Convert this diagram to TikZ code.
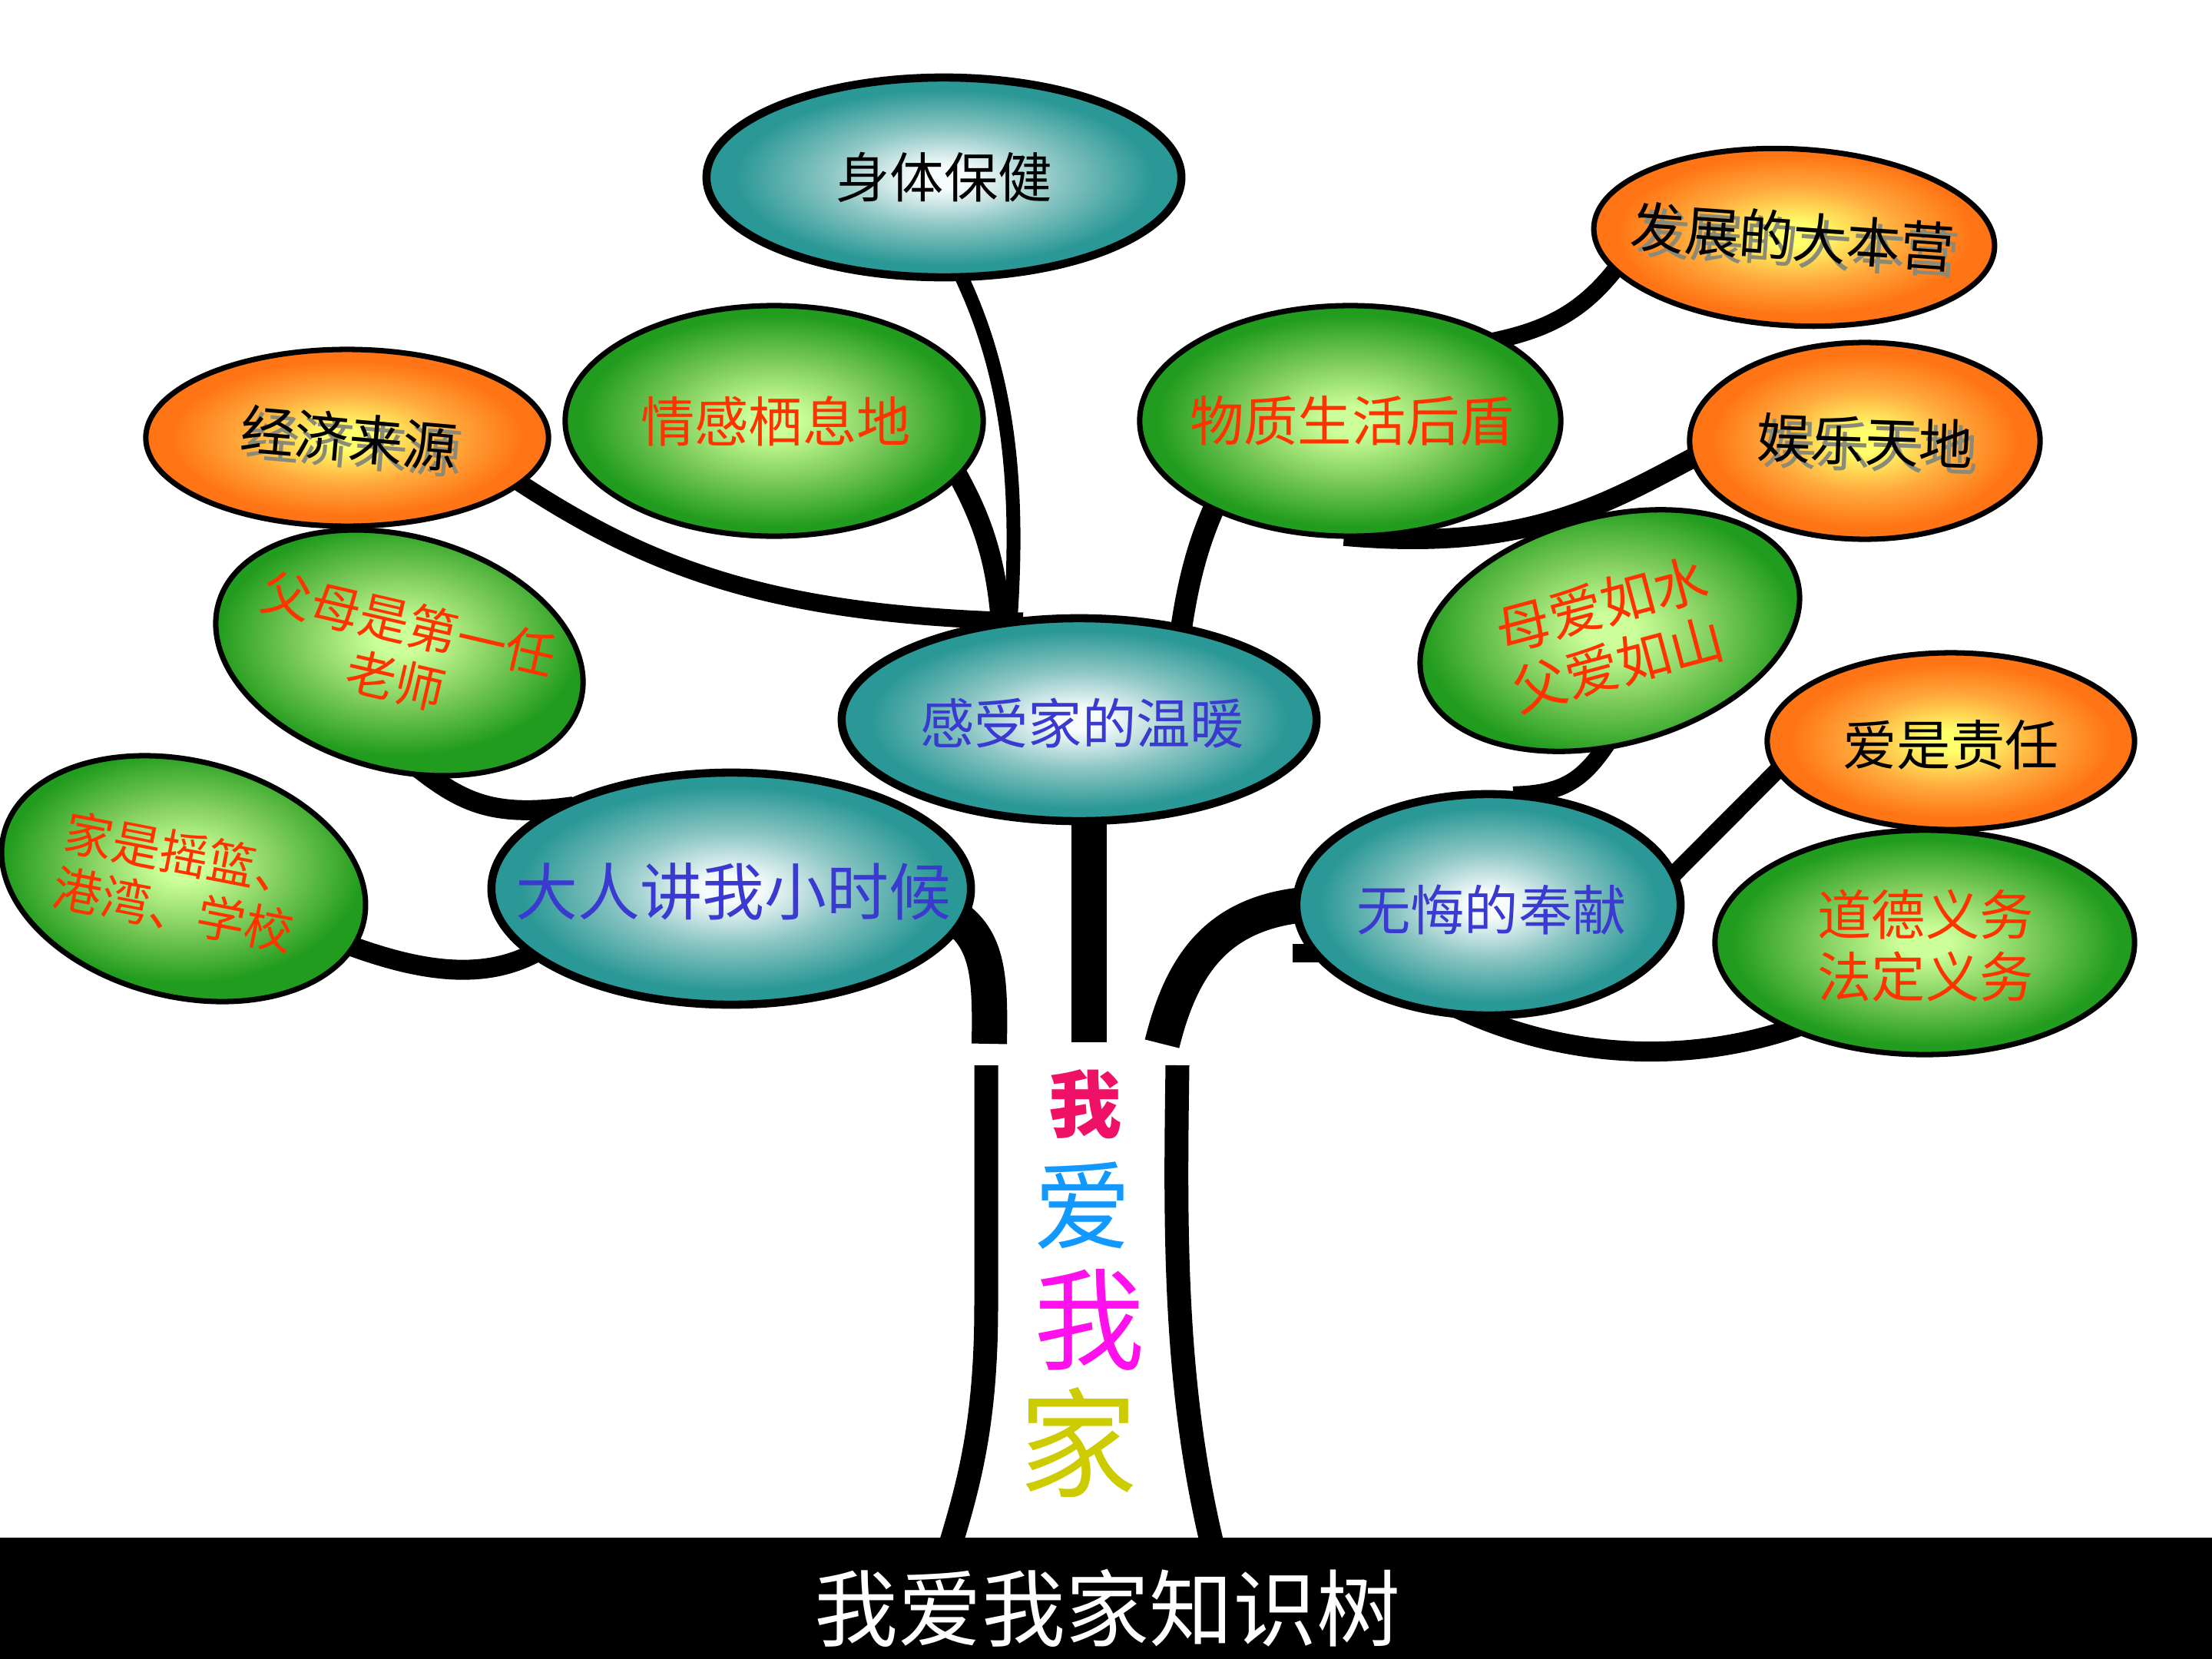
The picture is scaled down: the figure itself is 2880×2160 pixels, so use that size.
\documentclass[tikz,border=0pt]{standalone}
\usepackage{fontspec}
\setmainfont{Noto Sans CJK SC}
\usetikzlibrary{shapes.geometric,backgrounds}
\definecolor{tealout}{HTML}{2A9896}
\definecolor{tealmid}{HTML}{8CC6C4}
\definecolor{tealin}{HTML}{F6FBFB}
\definecolor{greenout}{HTML}{229C1E}
\definecolor{greenmid}{HTML}{7CCB5A}
\definecolor{greenin}{HTML}{CCFF99}
\definecolor{orangeout}{HTML}{FF7414}
\definecolor{orangemid}{HTML}{FFAA3C}
\definecolor{orangein}{HTML}{FFFF6A}
\definecolor{redtxt}{HTML}{FF3300}
\definecolor{bluetxt}{HTML}{3A3AD0}
\definecolor{shadowc}{HTML}{8A8A78}
\definecolor{wocolA}{HTML}{EE1166}
\definecolor{aicol}{HTML}{1199FF}
\definecolor{wocolB}{HTML}{FF11EE}
\definecolor{jiacol}{HTML}{CCCC00}
\pgfdeclareradialshading{tealball}{\pgfpoint{0bp}{0bp}}{color(0bp)=(tealin); color(3bp)=(tealin); color(12bp)=(tealmid); color(22bp)=(tealout); color(25bp)=(tealout); color(50bp)=(tealout)}
\pgfdeclareradialshading{greenball}{\pgfpoint{0bp}{0bp}}{color(0bp)=(greenin); color(3bp)=(greenin); color(13bp)=(greenmid); color(23bp)=(greenout); color(25bp)=(greenout); color(50bp)=(greenout)}
\pgfdeclareradialshading{orangeball}{\pgfpoint{0bp}{0bp}}{color(0bp)=(orangein); color(3bp)=(orangein); color(13bp)=(orangemid); color(22bp)=(orangeout); color(25bp)=(orangeout); color(50bp)=(orangeout)}
\newcommand\shtxt[1]{\makebox[0pt][l]{\hspace{2.2pt}\raisebox{-2.2pt}{\textcolor{shadowc}{#1}}}#1}
\tikzset{
  ball/.style={ellipse, draw=black, inner sep=0pt},
  tealb/.style={ball, shading=tealball, line width=3pt},
  greenb/.style={ball, shading=greenball, line width=2pt},
  orangeb/.style={ball, shading=orangeball, line width=2pt},
  txt/.style={inner sep=0pt, align=center, font=\fontsize{20pt}{23pt}\selectfont},
  redt/.style={txt, text=redtxt},
  bluet/.style={txt, text=bluetxt},
  blackt/.style={txt, text=black},
  branch/.style={line width=0.24cm, shorten <=-10pt, shorten >=-10pt},
  trunkup/.style={line width=0.46cm},
  trunklow/.style={line width=0.31cm},
  titletxt/.style={text=white, inner sep=0pt, font=\fontsize{31pt}{31pt}\selectfont},
}
\begin{document}
\begin{tikzpicture}[x=0.01cm,y=-0.01cm]
\useasboundingbox (0,0) rectangle (2880,2160);

% ellipses
\node[tealb, minimum width=6.18cm, minimum height=2.60cm] (ssbj) at (1229,231) {};
\node[blackt] (ssbj-t) at (ssbj) {身体保健};

\node[orangeb, minimum width=5.22cm, minimum height=2.30cm, rotate=-3] (fzdb) at (2336,309) {};
\node[blackt, rotate=-4] (fzdb-t) at (2334,312) {\shtxt{发展的大本营}};

\node[orangeb, minimum width=5.24cm, minimum height=2.30cm] (jjly) at (452,570) {};
\node[blackt, rotate=-5] (jjly-t) at (454,574) {\shtxt{经济来源}};

\node[greenb, minimum width=5.44cm, minimum height=3.00cm] (qgqx) at (1008,548) {};
\node[redt] (qgqx-t) at (1010,548) {情感栖息地};

\node[greenb, minimum width=5.48cm, minimum height=3.00cm] (wzsh) at (1758,548) {};
\node[redt] (wzsh-t) at (1760,548) {物质生活后盾};

\node[orangeb, minimum width=4.56cm, minimum height=2.56cm] (yltd) at (2428,574) {};
\node[blackt, rotate=-2] (yltd-t) at (2428,578) {\shtxt{娱乐天地}};

\node[greenb, minimum width=4.88cm, minimum height=3.04cm, rotate=-15] (fmds) at (520,850) {};
\node[redt, rotate=-13, font=\fontsize{18.5pt}{21.5pt}\selectfont] (fmds-t) at (524,849) {父母是第一任\\老师};

\node[greenb, minimum width=5.05cm, minimum height=2.96cm, rotate=15] (maru) at (2096,821) {};
\node[redt, rotate=15] (maru-t) at (2096,826) {母爱如水\\父爱如山};

\node[tealb, minimum width=6.18cm, minimum height=2.64cm] (gsjw) at (1405,937) {};
\node[bluet] (gsjw-t) at (1409,942) {感受家的温暖};

\node[orangeb, minimum width=4.78cm, minimum height=2.30cm] (aszr) at (2540,965) {};
\node[blackt] (aszr-t) at (2540,970) {爱是责任};

\node[greenb, minimum width=4.82cm, minimum height=3.07cm, rotate=-14] (jsyl) at (239,1144) {};
\node[redt, rotate=-11, font=\fontsize{18pt}{21pt}\selectfont] (jsyl-t) at (233,1148) {家是摇篮、\\港湾、学校};

\node[tealb, minimum width=6.24cm, minimum height=3.02cm] (drjw) at (952,1157) {};
\node[bluet, font=\fontsize{23pt}{26pt}\selectfont] (drjw-t) at (955,1161) {大人讲我小时候};

\node[tealb, minimum width=5.00cm, minimum height=2.88cm] (whfx) at (1938,1178) {};
\node[bluet] (whfx-t) at (1942,1185) {无悔的奉献};

\node[greenb, minimum width=5.46cm, minimum height=2.92cm] (ddyw) at (2506,1227) {};
\node[redt] (ddyw-t) at (2507,1231) {道德义务\\法定义务};

% trunk text
\node[inner sep=0pt, text=wocolA, font=\fontsize{27pt}{27pt}\selectfont\bfseries] (w1) at (1413,1438) {我};
\node[inner sep=0pt, text=aicol, font=\fontsize{36pt}{36pt}\selectfont] (a1) at (1410,1570) {爱};
\node[inner sep=0pt, text=wocolB, font=\fontsize{41pt}{41pt}\selectfont] (w2) at (1419,1718) {我};
\node[inner sep=0pt, text=jiacol, font=\fontsize{44pt}{44pt}\selectfont] (j1) at (1404,1878) {家};

\coordinate (tl) at (1288,1359);
\coordinate (tm) at (1418,1357);
\coordinate (tr) at (1513,1359);
\coordinate (bl0) at (1284,1387);
\coordinate (bl1) at (1238,2010);
\coordinate (br0) at (1533,1387);
\coordinate (br1) at (1578,2010);

\begin{scope}[on background layer]
\fill[white] (0,0) rectangle (2880,2160);
% branches
\draw[branch, line width=0.18cm] (ssbj.281) .. controls (1310,470) and (1332,620) .. (gsjw.124);
\draw[branch, line width=0.26cm] (qgqx.343) .. controls (1285,680) and (1300,740) .. (gsjw.128);
\draw[branch, line width=0.23cm] (jjly.345) .. controls (840,740) and (1000,800) .. (gsjw.130);
\draw[branch, line width=0.28cm] (wzsh.213) .. controls (1560,700) and (1545,760) .. (gsjw.43);
\draw[branch, line width=0.22cm] (fzdb.194) .. controls (2065,410) and (2010,432) .. (wzsh.28);
\draw[branch, line width=0.26cm] (yltd.186) .. controls (2100,650) and (2000,720) .. (wzsh.280);
\draw[branch, line width=0.22cm] (maru.252) .. controls (2065,1015) and (2040,1033) .. (whfx.65);
\draw[branch, line width=0.22cm] (aszr.190) -- (whfx.10);
\draw[branch, line width=0.26cm] (ddyw.213) .. controls (2220,1385) and (2050,1385) .. (whfx.266);
\draw[branch, line width=0.26cm] (fmds.299) .. controls (600,1045) and (640,1065) .. (drjw.157);
\draw[branch, line width=0.26cm] (jsyl.352) .. controls (540,1265) and (640,1285) .. (drjw.199);
% trunk upper
\draw[trunkup, shorten <=-10pt] (drjw.352) .. controls (1285,1215) and (1290,1260) .. (tl);
\draw[trunkup] (gsjw.center -| tm) -- (tm);
\draw[trunkup, shorten <=-10pt] (whfx.180) .. controls (1590,1182) and (1540,1250) .. (tr);
\fill[black] (1683,1229) rectangle (1725,1253);
% trunk lower
\draw[trunklow] (bl0) -- (1284,1700) .. controls (1284,1850) and (1262,1930) .. (bl1);
\draw[trunklow] (br0) .. controls (1530,1600) and (1528,1800) .. (br1);
\end{scope}

% bottom bar and title
\fill[black] (0,2002) rectangle (2880,2160);
\node[titletxt] (title) at (1442,2094) {我爱我家知识树};
\end{tikzpicture}
\end{document}
